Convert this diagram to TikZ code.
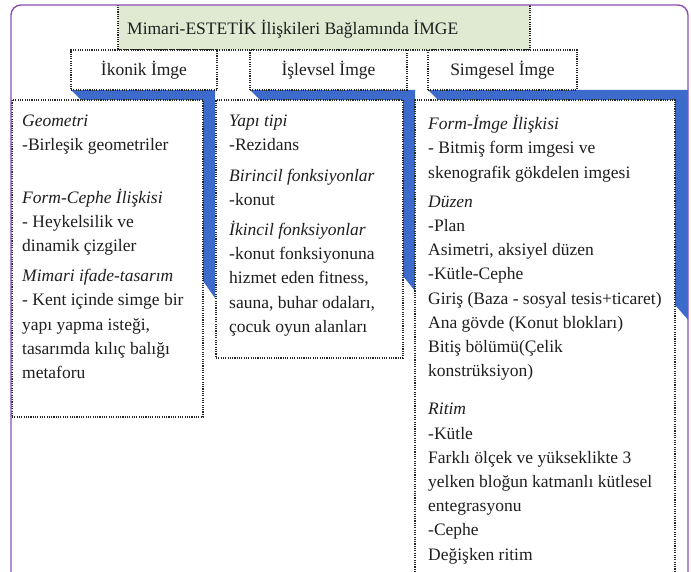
\documentclass[tikz,border=0pt]{standalone}
\usepackage{fontspec}
\setmainfont{Liberation Serif}
\usepackage{xcolor}
\definecolor{cerceve}{HTML}{8A4FB0}
\definecolor{seritmavi}{HTML}{3C6BCB}
\definecolor{baslikyesil}{HTML}{E0EAD3}
\definecolor{yazi}{HTML}{1E1E1E}

\tikzset{
	noktali/.style={draw=black!85, line width=1.3pt, dash pattern=on 1.1pt off 1.2pt},
	kutu/.style={noktali, fill=white, inner sep=0pt, outer sep=0pt, anchor=north west},
	imgekutu/.style={kutu, minimum height=40pt, text=yazi, font=\fontsize{17.5}{20}\selectfont},
	metin/.style={anchor=north west, inner sep=0pt, align=left, text=yazi, font=\fontsize{17.5}{24.2}\selectfont},
	serit/.style={fill=seritmavi, draw=none},
}

\begin{document}
\begin{tikzpicture}[x=1pt,y=-1pt]
		\useasboundingbox (0,0) rectangle (691,572);
		\begin{scope}
			\clip[rounded corners=10pt] (11,5) rectangle (688,640);
			% mavi seritler
			\fill[serit] (71,90) -- (215,90) -- (215,298) -- (203,281) -- (203,100) -- (81,100) -- cycle;
			\fill[serit] (250,90) -- (415,90) -- (415,291) -- (403,276) -- (403,100) -- (260,100) -- cycle;
			\fill[serit] (428,90) -- (690,90) -- (690,322) -- (675,305) -- (675,100) -- (438,100) -- cycle;
			%
			\node[kutu, fill=baslikyesil, minimum width=412pt, minimum height=50pt] (baslik) at (118,0) {};
			\node[anchor=west, inner sep=0pt, text=yazi, font=\fontsize{17.5}{20}\selectfont] (basliktext) at (127,29) {Mimari-ESTETİK İlişkileri Bağlamında İMGE};
			%
			\node[imgekutu, minimum width=146pt] (ikonik) at (71,50) {İkonik İmge};
			\node[imgekutu, minimum width=157pt] (islevsel) at (250,50) {İşlevsel İmge};
			\node[imgekutu, minimum width=149pt] (simgesel) at (428,50) {Simgesel İmge};
			%
			\node[kutu, minimum width=191pt, minimum height=317pt] (ikonikkutu) at (12,100) {};
			\node[kutu, minimum width=187pt, minimum height=258pt] (islevselkutu) at (216,100) {};
			\node[kutu, minimum width=260pt, minimum height=520pt] (simgeselkutu) at (415,100) {};
			%
			\node[metin] (ikonikmetin) at (22,115) {\textit{Geometri}\\
				-Birleşik geometriler\\[28pt]
				\textit{Form-Cephe İlişkisi}\\
				- Heykelsilik ve\\
				dinamik çizgiler\\[6pt]
				\textit{Mimari ifade-tasarım}\\
				- Kent içinde simge bir\\
				yapı yapma isteği,\\
				tasarımda kılıç balığı\\
				metaforu};
			\node[metin] (islevselmetin) at (229,115) {\textit{Yapı tipi}\\
				-Rezidans\\[6pt]
				\textit{Birincil fonksiyonlar}\\
				-konut\\[6pt]
				\textit{İkincil fonksiyonlar}\\
				-konut fonksiyonuna\\
				hizmet eden fitness,\\
				sauna, buhar odaları,\\
				çocuk oyun alanları};
			\node[metin] (simgeselmetin) at (428,115) {\textit{Form-İmge İlişkisi}\\
				- Bitmiş form imgesi ve\\
				skenografik gökdelen imgesi\\[5pt]
				\textit{Düzen}\\
				-Plan\\
				Asimetri, aksiyel düzen\\
				-Kütle-Cephe\\
				Giriş (Baza - sosyal tesis+ticaret)\\
				Ana gövde (Konut blokları)\\
				Bitiş bölümü(Çelik\\
				konstrüksiyon)\\[14pt]
				\textit{Ritim}\\
				-Kütle\\
				Farklı ölçek ve yükseklikte 3\\
				yelken bloğun katmanlı kütlesel\\
				entegrasyonu\\
				-Cephe\\
				Değişken ritim};
		\end{scope}
		%
		\draw[cerceve, line width=1.4pt, rounded corners=10pt] (11,640) -- (11,5) -- (688,5) -- (688,640);
	\end{tikzpicture}
\end{document}
